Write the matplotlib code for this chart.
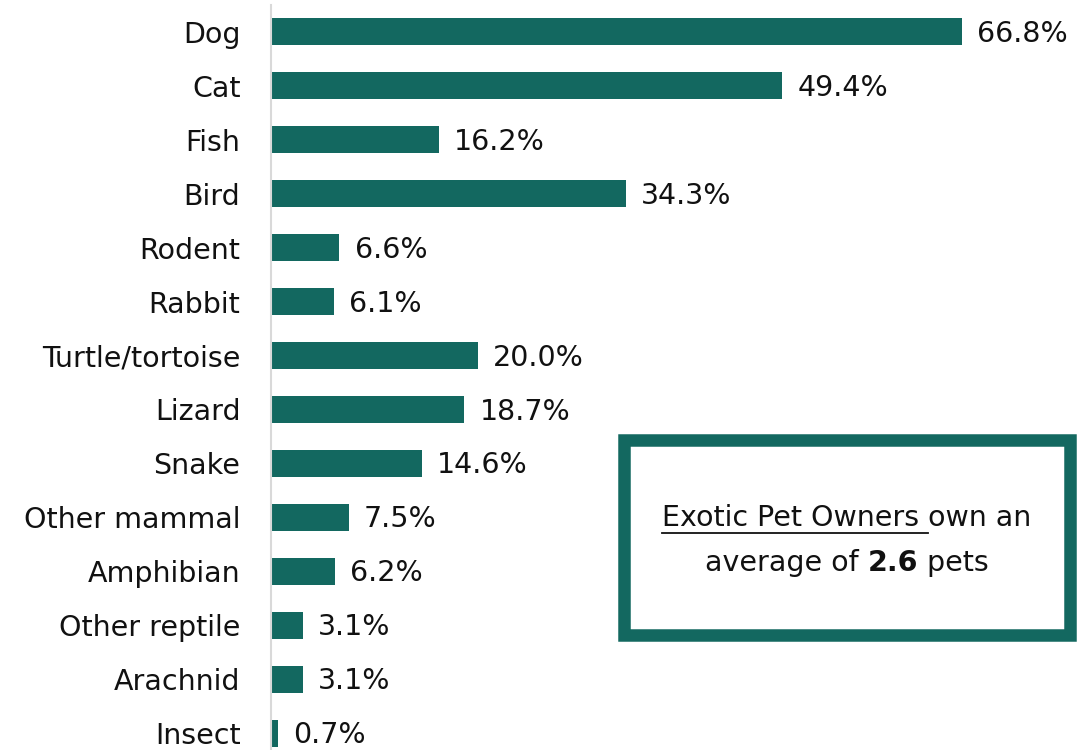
import matplotlib
matplotlib.use("Agg")
import matplotlib.pyplot as plt
from matplotlib.patches import Rectangle
from matplotlib.lines import Line2D

plt.rcParams['font.family'] = ['DejaVu Sans']

pets = ["Dog", "Cat", "Fish", "Bird", "Rodent", "Rabbit", "Turtle/tortoise",
        "Lizard", "Snake", "Other mammal", "Amphibian", "Other reptile",
        "Arachnid", "Insect"]
share = [66.8, 49.4, 16.2, 34.3, 6.6, 6.1, 20.0, 18.7, 14.6, 7.5, 6.2, 3.1, 3.1, 0.7]

green = "#136860"
W, H = 1092, 750
FS = 20.5

fig = plt.figure(figsize=(W / 100, H / 100), dpi=100)
ax = fig.add_axes([271 / W, (H - 760) / H, (1088 - 271) / W, 755 / H])

ypos = list(range(len(pets)))
ax.barh(ypos, share, height=0.5, color=green)
ax.set_ylim(len(pets) - 0.5, -0.5)
ax.set_xlim(0, 79)
ax.set_yticks(ypos)
ax.set_yticklabels(pets, fontsize=FS, color="#111111")
ax.tick_params(axis="y", length=0, pad=22)
ax.set_xticks([])
for s in ["top", "right", "bottom"]:
    ax.spines[s].set_visible(False)
ax.spines["left"].set_color("#d9d9d9")
ax.spines["left"].set_linewidth(1.5)

for y, v in zip(ypos, share):
    ax.annotate(f"{v:.1f}%", (v, y), xytext=(11, -1.5), textcoords="offset points",
                va="center", ha="left", fontsize=FS, color="#111111")

# callout box
bx0, by0, bx1, by1 = 624, 440, 1070, 635
fig.patches.append(Rectangle((bx0 / W, 1 - by1 / H), (bx1 - bx0) / W, (by1 - by0) / H,
                             transform=fig.transFigure, facecolor="white",
                             edgecolor=green, linewidth=9, zorder=5))

renderer = fig.canvas.get_renderer()


def draw_line(segments, cy, cx=847):
    texts = []
    for txt, weight, _ in segments:
        t = fig.text(0, 1 - cy / H, txt, fontsize=FS, fontweight=weight,
                     ha="left", va="center", color="#111111", zorder=6)
        texts.append(t)
    widths = [t.get_window_extent(renderer).width for t in texts]
    x = cx - sum(widths) / 2
    for t, w, seg in zip(texts, widths, segments):
        t.set_x(x / W)
        if seg[2]:
            uy = 1 - (cy + 15) / H
            fig.lines.append(Line2D([x / W, (x + w) / W], [uy, uy],
                                    transform=fig.transFigure, color="#111111",
                                    linewidth=1.3, zorder=6))
        x += w


draw_line([("Exotic Pet Owners ", "normal", True), ("own an", "normal", False)], 518)
draw_line([("average of ", "normal", False), ("2.6", "bold", False),
           (" pets", "normal", False)], 563)

fig.savefig("out.png", dpi=100)
